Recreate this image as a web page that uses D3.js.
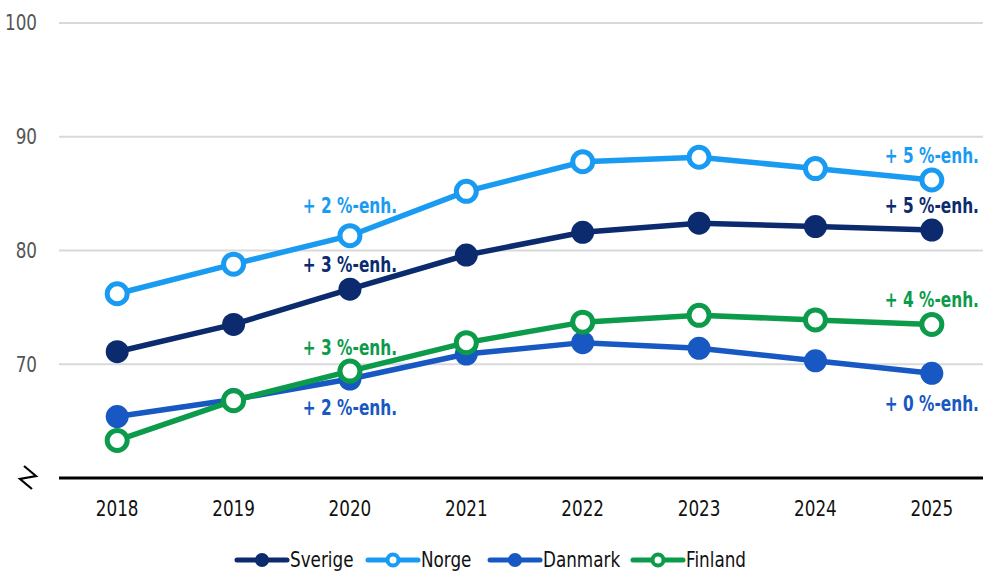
<!DOCTYPE html>
<html>
<head>
<meta charset="utf-8">
<script src="https://cdn.jsdelivr.net/npm/d3@7.9.0/dist/d3.min.js"></script>
<style>
  body { margin: 0; background: #fff; }
  svg { display: block; font-family: "DejaVu Sans", sans-serif; }
</style>
</head>
<body>
<svg id="chart"></svg>
<script>
const years = [2018, 2019, 2020, 2021, 2022, 2023, 2024, 2025];
const sverige = [71.1, 73.5, 76.6, 79.6, 81.6, 82.4, 82.1, 81.8];
const norge = [76.2, 78.8, 81.3, 85.2, 87.8, 88.2, 87.2, 86.2];
const danmark = [65.4, 66.9, 68.7, 70.9, 71.9, 71.4, 70.3, 69.2];
const finland = [63.3, 66.8, 69.4, 71.9, 73.7, 74.3, 73.9, 73.5];
const yTicks = [70, 80, 90, 100];

const series = [
  { name: "Sverige", values: sverige, color: "#0b2b6e", open: false },
  { name: "Norge", values: norge, color: "#1a9bf2", open: true },
  { name: "Danmark", values: danmark, color: "#1758c2", open: false },
  { name: "Finland", values: finland, color: "#0b9b4a", open: true },
];

// annotations: series name, year index, text, vertical offset from point
const notes = [
  { name: "Norge", i: 2, text: "+ 2 %-enh.", dy: -30 },
  { name: "Sverige", i: 2, text: "+ 3 %-enh.", dy: -25 },
  { name: "Finland", i: 2, text: "+ 3 %-enh.", dy: -24 },
  { name: "Danmark", i: 2, text: "+ 2 %-enh.", dy: 28 },
  { name: "Norge", i: 7, text: "+ 5 %-enh.", dy: -25 },
  { name: "Sverige", i: 7, text: "+ 5 %-enh.", dy: -25 },
  { name: "Finland", i: 7, text: "+ 4 %-enh.", dy: -25 },
  { name: "Danmark", i: 7, text: "+ 0 %-enh.", dy: 30 },
];

const width = 983, height = 572;
const left = 59, right = 983;

const svg = d3.select("#chart").attr("width", width).attr("height", height);

const x = d3.scalePoint().domain(years).range([left, 990]).padding(0.5);
const y = d3.scaleLinear().domain([60, 100]).range([478, 23]);

// no condensed font installed, so narrow the glyphs by hand
const at = (px, py, s = 0.8) => `translate(${px},${py}) scale(${s},1)`;

// gridlines
svg.append("g")
  .selectAll("line")
  .data(yTicks)
  .join("line")
  .attr("x1", left).attr("x2", right)
  .attr("y1", d => y(d)).attr("y2", d => y(d))
  .attr("stroke", "#d9d9d9").attr("stroke-width", 2);

// y labels
svg.append("g")
  .selectAll("text")
  .data(yTicks)
  .join("text")
  .attr("transform", d => at(37, y(d)))
  .attr("dy", "0.35em")
  .attr("text-anchor", "end")
  .attr("fill", "#555")
  .attr("font-size", 21)
  .text(d => d);

// axis break mark
svg.append("path")
  .attr("d", "M24,466 L36,476 L20,479 L32,489")
  .attr("fill", "none").attr("stroke", "#000").attr("stroke-width", 2.2);

// x axis
svg.append("line")
  .attr("x1", left).attr("x2", right)
  .attr("y1", y(60)).attr("y2", y(60))
  .attr("stroke", "#000").attr("stroke-width", 3);

svg.append("g")
  .selectAll("text")
  .data(years)
  .join("text")
  .attr("transform", d => at(x(d), 509))
  .attr("dy", "0.35em")
  .attr("text-anchor", "middle")
  .attr("fill", "#111")
  .attr("font-size", 21)
  .text(d => d);

const line = d3.line().x((d, i) => x(years[i])).y(d => y(d));

// lines and markers
for (const s of series) {
  const g = svg.append("g");
  g.append("path")
    .attr("d", line(s.values))
    .attr("fill", "none")
    .attr("stroke", s.color)
    .attr("stroke-width", 5.5);
  g.selectAll("circle")
    .data(s.values)
    .join("circle")
    .attr("cx", (d, i) => x(years[i]))
    .attr("cy", d => y(d))
    .attr("r", s.open ? 10 : 11.5)
    .attr("fill", s.open ? "#fff" : s.color)
    .attr("stroke", s.open ? s.color : "none")
    .attr("stroke-width", 5);
}

// annotations, centred on their point
const byName = Object.fromEntries(series.map(s => [s.name, s]));
svg.append("g")
  .selectAll("text")
  .data(notes)
  .join("text")
  .attr("transform", d => at(x(years[d.i]),
    y(byName[d.name].values[d.i]) + d.dy, 0.7))
  .attr("dy", "0.35em")
  .attr("text-anchor", "middle")
  .attr("font-size", 22)
  .attr("font-weight", "bold")
  .attr("fill", d => byName[d.name].color)
  .text(d => d.text);

// legend
const legendX = [237, 368, 490, 633];
const leg = svg.append("g")
  .selectAll("g")
  .data(series)
  .join("g")
  .attr("transform", (d, i) => `translate(${legendX[i]},560)`);
leg.append("line")
  .attr("x1", 0).attr("x2", 50)
  .attr("stroke", d => d.color).attr("stroke-width", 5)
  .attr("stroke-linecap", "round");
leg.append("circle")
  .attr("cx", 25).attr("r", d => d.open ? 5.5 : 7)
  .attr("fill", d => d.open ? "#fff" : d.color)
  .attr("stroke", d => d.open ? d.color : "none")
  .attr("stroke-width", 4);
leg.append("text")
  .attr("transform", at(53, 0))
  .attr("dy", "0.35em")
  .attr("font-size", 21)
  .attr("fill", "#111")
  .text(d => d.name);
</script>
</body>
</html>
